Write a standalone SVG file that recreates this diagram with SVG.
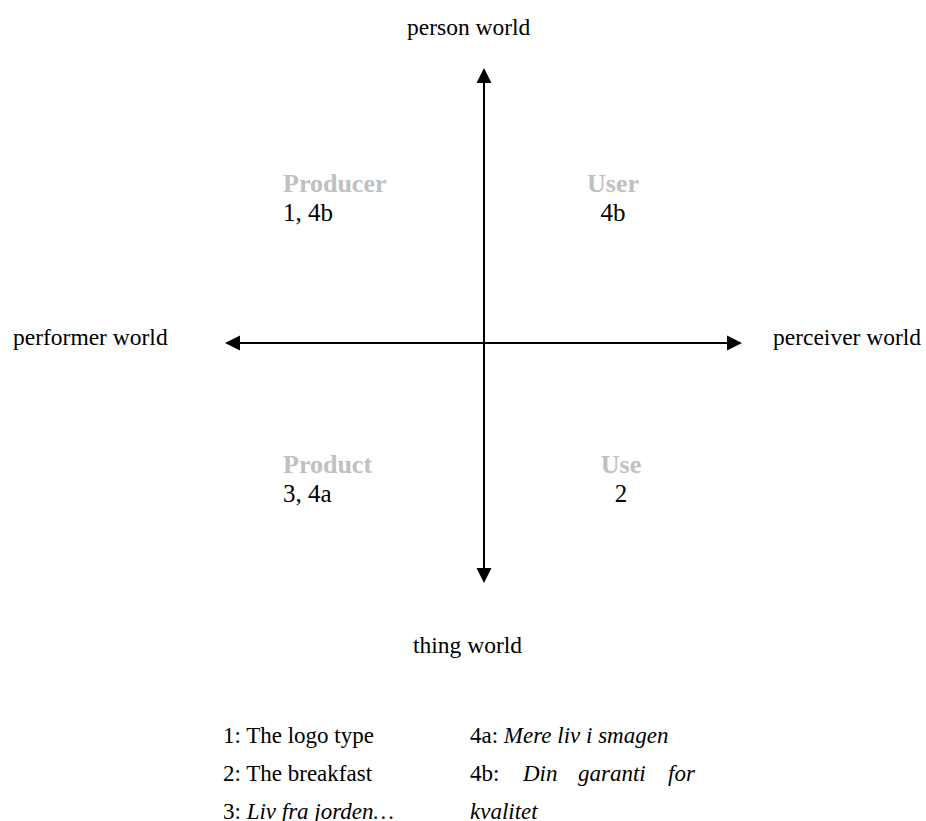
<svg xmlns="http://www.w3.org/2000/svg" width="926" height="821" viewBox="0 0 926 821">
<style>
text{font-family:"Liberation Serif","Times New Roman",serif;fill:#000}
.ax{font-size:23.5px}
.hd{font-size:26px;font-weight:bold;fill:#c0c0c0}
.q{font-size:25px}
.lg{font-size:23px}
.it{font-style:italic}
.axis{stroke:#000;stroke-width:2;fill:none;marker-start:url(#arr);marker-end:url(#arr)}
</style>
<defs>
<marker id="arr" markerUnits="userSpaceOnUse" markerWidth="15" markerHeight="16" refX="0" refY="7.5" orient="auto-start-reverse" viewBox="0 0 15 15">
<path d="M0,0 L15,7.5 L0,15 z" fill="#000"/>
</marker>
</defs>
<rect width="926" height="821" fill="#fff"/>
<g id="connectors">
<line class="axis" x1="484" y1="83" x2="484" y2="568"/>
<line class="axis" x1="240" y1="343" x2="727" y2="343"/>
</g>
<g id="axis-labels">
<text id="person" class="ax" x="407" y="35">person world</text>
<text id="performer" class="ax" x="13" y="345">performer world</text>
<text id="perceiver" class="ax" x="773" y="345">perceiver world</text>
<text id="thing" class="ax" x="413" y="653">thing world</text>
</g>
<g id="producer">
<text class="hd" x="283" y="192">Producer</text>
<text class="q" x="283" y="221">1, 4b</text>
</g>
<g id="user">
<text class="hd" x="613" y="192" text-anchor="middle">User</text>
<text class="q" x="613" y="221" text-anchor="middle">4b</text>
</g>
<g id="product">
<text class="hd" x="283" y="473">Product</text>
<text class="q" x="283" y="502">3, 4a</text>
</g>
<g id="use">
<text class="hd" x="621" y="473" text-anchor="middle">Use</text>
<text class="q" x="621" y="502" text-anchor="middle">2</text>
</g>
<g id="legend">
<text class="lg" x="223" y="743">1: The logo type</text>
<text class="lg" x="223" y="781">2: The breakfast</text>
<text class="lg" x="223" y="819">3: <tspan class="it">Liv fra jorden…</tspan></text>
<text class="lg" x="470" y="743">4a: <tspan class="it">Mere liv i smagen</tspan></text>
<text class="lg" x="470" y="781">4b:</text>
<text class="lg it" x="523" y="781">Din</text>
<text class="lg it" x="578" y="781">garanti</text>
<text class="lg it" x="668" y="781">for</text>
<text class="lg it" x="470" y="819">kvalitet</text>
</g>
</svg>
